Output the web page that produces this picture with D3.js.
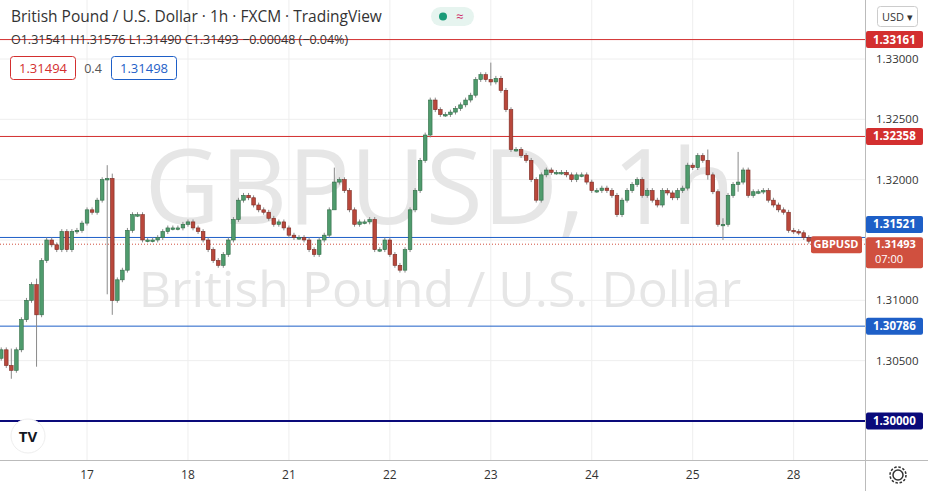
<!DOCTYPE html>
<html lang="en">
<head>
<meta charset="UTF-8">
<script src="https://d3js.org/d3.v7.min.js"></script>
<style>
  body { margin: 0; background: #fff; font-family: "Open Sans", Arial, sans-serif; }
  svg { display: block; }
</style>
</head>
<body>
<svg id="chart" width="928" height="491"></svg>
<script>
// hourly closes
const closes = [
  1.3059, 1.3046, 1.3042, 1.3059, 1.3084, 1.3100, 1.3113, 1.3088, 1.3133, 1.3150,
  1.3146, 1.3142, 1.3157, 1.3142, 1.3157, 1.3158, 1.3164, 1.3175, 1.3173, 1.3183,
  1.3200, 1.3201, 1.3100, 1.3117, 1.3125, 1.3158, 1.3171, 1.3171, 1.3150, 1.3150,
  1.3150, 1.3152, 1.3157, 1.3160, 1.3160, 1.3160, 1.3163, 1.3165, 1.3160, 1.3157,
  1.3150, 1.3142, 1.3133, 1.3129, 1.3138, 1.3150, 1.3167, 1.3183, 1.3187, 1.3185,
  1.3179, 1.3175, 1.3173, 1.3168, 1.3163, 1.3165, 1.3160, 1.3154, 1.3152, 1.3152,
  1.3150, 1.3142, 1.3138, 1.3150, 1.3154, 1.3175, 1.3198, 1.3200, 1.3191, 1.3175,
  1.3163, 1.3165, 1.3165, 1.3167, 1.3142, 1.3142, 1.3150, 1.3138, 1.3129, 1.3125,
  1.3142, 1.3175, 1.3191, 1.3216, 1.3237, 1.3266, 1.3258, 1.3254, 1.3254, 1.3256,
  1.3259, 1.3262, 1.3266, 1.3270, 1.3283, 1.3287, 1.3283, 1.3281, 1.3284, 1.3274,
  1.3258, 1.3225, 1.3225, 1.3220, 1.3216, 1.3200, 1.3183, 1.3204, 1.3208, 1.3206,
  1.3206, 1.3206, 1.3204, 1.3200, 1.3204, 1.3204, 1.3198, 1.3191, 1.3191, 1.3193,
  1.3191, 1.3187, 1.3171, 1.3183, 1.3191, 1.3196, 1.3200, 1.3187, 1.3191, 1.3183,
  1.3179, 1.3191, 1.3189, 1.3185, 1.3191, 1.3193, 1.3212, 1.3210, 1.3220, 1.3216,
  1.3204, 1.3190, 1.3163, 1.3163, 1.3187, 1.3196, 1.3198, 1.3208, 1.3187, 1.3190,
  1.3190, 1.3191, 1.3183, 1.3179, 1.3175, 1.3173, 1.3158, 1.3157, 1.3156, 1.3152,
  1.3149
];
const firstOpen = 1.3052;
// candles with longer wicks: index -> [high, low]
const bigWicks = { 2: [1.3060, 1.3035], 7: [1.3118, 1.3045], 21: [1.3212, 1.3105], 22: [1.3205, 1.3088],
  66: [1.3210, 1.3190], 97: [1.3297, 1.3278], 140: [1.3225, 1.3200], 143: [1.3168, 1.3150], 146: [1.3223, 1.3190] };

const priceTicks = [1.30500, 1.31000, 1.32000, 1.32500, 1.33000];
const dayLabels = ["17", "18", "21", "22", "23", "24", "25", "28"];
const dayIndex = [17, 37, 57, 77, 97, 117, 137, 157];

const levels = [
  { v: 1.33161, color: "#d32f2f", w: 1, dy: 0 },
  { v: 1.32358, color: "#d32f2f", w: 1, dy: 0 },
  { v: 1.31521, color: "#1e5fc7", w: 1, dy: -13 },
  { v: 1.30786, color: "#1e5fc7", w: 1, dy: 0 },
  { v: 1.30000, color: "#0a0a7a", w: 2, dy: 0 }
];

const svg = d3.select("#chart");
const plotR = 865, plotB = 460;

const y = d3.scaleLinear().domain([1.30, 1.33]).range([421, 59]);
const x = d3.scaleBand().domain(d3.range(closes.length)).range([-2, 812]).padding(0.28);

const candles = closes.map((c, i) => {
  const o = i === 0 ? firstOpen : closes[i - 1];
  const w = bigWicks[i];
  const hi = w ? w[0] : Math.max(o, c) + 0.0002;
  const lo = w ? w[1] : Math.min(o, c) - 0.0002;
  return { i, o, c, hi, lo };
});

// grid
const grid = svg.append("g");
grid.selectAll(".hg").data(priceTicks.concat([1.315])).join("line")
  .attr("x1", 0).attr("x2", plotR).attr("y1", d => y(d)).attr("y2", d => y(d))
  .attr("stroke", "#eeeeee");
grid.append("line").attr("x1", 0).attr("x2", plotR).attr("y1", y(1.3355)).attr("y2", y(1.3355)).attr("stroke", "#eeeeee");
grid.selectAll(".vg").data(dayIndex).join("line")
  .attr("x1", d => x(d) + x.bandwidth() / 2).attr("x2", d => x(d) + x.bandwidth() / 2)
  .attr("y1", 0).attr("y2", plotB).attr("stroke", "#eeeeee");

// watermark
svg.append("text").attr("x", 440).attr("y", 224).attr("text-anchor", "middle")
  .attr("font-size", 104).attr("fill", "#e6e6e6").text("GBPUSD, 1h");
svg.append("text").attr("x", 440).attr("y", 307).attr("text-anchor", "middle")
  .attr("font-size", 50).attr("fill", "#e6e6e6").text("British Pound / U.S. Dollar");

// level lines
svg.selectAll(".lvl").data(levels).join("line")
  .attr("x1", 0).attr("x2", plotR).attr("y1", d => y(d.v)).attr("y2", d => y(d.v))
  .attr("stroke", d => d.color).attr("stroke-width", d => d.w);

// current price dotted line
const last = closes[closes.length - 1];
svg.append("line").attr("x1", 0).attr("x2", plotR).attr("y1", y(last) + 3).attr("y2", y(last) + 3)
  .attr("stroke", "#d0503f").attr("stroke-dasharray", "1,2");

// candles
const g = svg.append("g");
g.selectAll(".wick").data(candles).join("line")
  .attr("x1", d => x(d.i) + x.bandwidth() / 2).attr("x2", d => x(d.i) + x.bandwidth() / 2)
  .attr("y1", d => y(d.hi)).attr("y2", d => y(d.lo)).attr("stroke", "#8a8a8a");
g.selectAll(".body").data(candles).join("rect")
  .attr("x", d => x(d.i)).attr("width", x.bandwidth())
  .attr("y", d => y(Math.max(d.o, d.c)))
  .attr("height", d => Math.max(1.5, Math.abs(y(d.o) - y(d.c))))
  .attr("fill", d => d.c >= d.o ? "#4f9b6d" : "#b9473b")
  .attr("stroke", d => d.c >= d.o ? "#2f6b45" : "#7a2a22").attr("stroke-width", 0.6);

// axes frame
svg.append("rect").attr("x", plotR).attr("y", 0).attr("width", 928 - plotR).attr("height", 491).attr("fill", "#fff");
svg.append("rect").attr("x", 0).attr("y", plotB).attr("width", plotR).attr("height", 31).attr("fill", "#fff");
svg.append("line").attr("x1", plotR + 0.5).attr("x2", plotR + 0.5).attr("y1", 0).attr("y2", 491).attr("stroke", "#bbb");
svg.append("line").attr("x1", 0).attr("x2", 928).attr("y1", plotB + 0.5).attr("y2", plotB + 0.5).attr("stroke", "#bbb");

svg.selectAll(".pt").data(priceTicks).join("text")
  .attr("x", 876).attr("y", d => y(d) + 4).attr("font-size", 11.5).attr("fill", "#333")
  .text(d => d.toFixed(5));
svg.selectAll(".dl").data(dayIndex).join("text")
  .attr("x", d => x(d) + x.bandwidth() / 2).attr("y", 479).attr("text-anchor", "middle")
  .attr("font-size", 12).attr("fill", "#333").text((d, i) => dayLabels[i]);

// level labels
const lab = svg.selectAll(".ll").data(levels).join("g");
lab.append("rect").attr("x", plotR + 1).attr("width", 57).attr("height", 17).attr("rx", 2)
  .attr("y", d => y(d.v) - 8.5 + d.dy).attr("fill", d => d.color);
lab.append("text").attr("x", 873).attr("y", d => y(d.v) + 4 + d.dy).attr("font-size", 11.5)
  .attr("font-weight", "bold").attr("fill", "#fff").text(d => d.v.toFixed(5));

// current price labels
svg.append("rect").attr("x", plotR + 1).attr("y", y(last) - 4).attr("width", 57).attr("height", 31).attr("rx", 2).attr("fill", "#d0503f");
svg.append("text").attr("x", 875).attr("y", y(last) + 7).attr("font-size", 11).attr("font-weight", "bold").attr("fill", "#fff").text("1.31493");
svg.append("text").attr("x", 875).attr("y", y(last) + 22).attr("font-size", 11).attr("fill", "#fff").text("07:00");
svg.append("rect").attr("x", 811).attr("y", y(last) - 5).attr("width", 51).attr("height", 17).attr("rx", 2).attr("fill", "#d0503f");
svg.append("text").attr("x", 836).attr("y", y(last) + 7).attr("text-anchor", "middle").attr("font-size", 11).attr("font-weight", "bold").attr("fill", "#fff").text("GBPUSD");

// header
svg.append("text").attr("x", 11).attr("y", 22).attr("font-size", 15.5).attr("fill", "#333")
  .text("British Pound / U.S. Dollar · 1h · FXCM · TradingView");
svg.append("rect").attr("x", 431).attr("y", 7).attr("width", 43).attr("height", 19).attr("rx", 9.5).attr("fill", "#e6f4ef");
svg.append("circle").attr("cx", 443).attr("cy", 16.5).attr("r", 4).attr("fill", "#1a9b78");
svg.append("text").attr("x", 456).attr("y", 21).attr("font-size", 13).attr("fill", "#d0306a").text("≈");
svg.append("text").attr("x", 11).attr("y", 44).attr("font-size", 12.5).attr("fill", "#333")
  .text("O1.31541 H1.31576 L1.31490 C1.31493 −0.00048 (−0.04%)");
svg.append("rect").attr("x", 10.5).attr("y", 56.5).attr("width", 65).attr("height", 23).attr("rx", 3).attr("fill", "#fff").attr("stroke", "#d32f2f");
svg.append("text").attr("x", 43).attr("y", 73).attr("text-anchor", "middle").attr("font-size", 13).attr("fill", "#d32f2f").text("1.31494");
svg.append("text").attr("x", 93).attr("y", 73).attr("text-anchor", "middle").attr("font-size", 12.5).attr("fill", "#555").text("0.4");
svg.append("rect").attr("x", 111.5).attr("y", 56.5).attr("width", 65).attr("height", 23).attr("rx", 3).attr("fill", "#fff").attr("stroke", "#1e5fc7");
svg.append("text").attr("x", 144).attr("y", 73).attr("text-anchor", "middle").attr("font-size", 13).attr("fill", "#1e5fc7").text("1.31498");

// currency box
svg.append("rect").attr("x", 877.5).attr("y", 6.5).attr("width", 40).attr("height", 20).attr("rx", 3).attr("fill", "#fff").attr("stroke", "#ccc");
svg.append("text").attr("x", 882).attr("y", 21).attr("font-size", 11).attr("fill", "#333").text("USD ▾");

// logo and gear
svg.append("circle").attr("cx", 28).attr("cy", 436).attr("r", 17).attr("fill", "#fff").attr("stroke", "#eee");
svg.append("text").attr("x", 28).attr("y", 442).attr("text-anchor", "middle").attr("font-size", 15).attr("font-weight", "bold").attr("fill", "#131722").text("TV");
svg.append("circle").attr("cx", 898).attr("cy", 475).attr("r", 5).attr("fill", "none").attr("stroke", "#333").attr("stroke-width", 1.5);
svg.append("circle").attr("cx", 898).attr("cy", 475).attr("r", 8).attr("fill", "none").attr("stroke", "#333").attr("stroke-width", 1.5).attr("stroke-dasharray", "2.5,1.7");
</script>
</body>
</html>
